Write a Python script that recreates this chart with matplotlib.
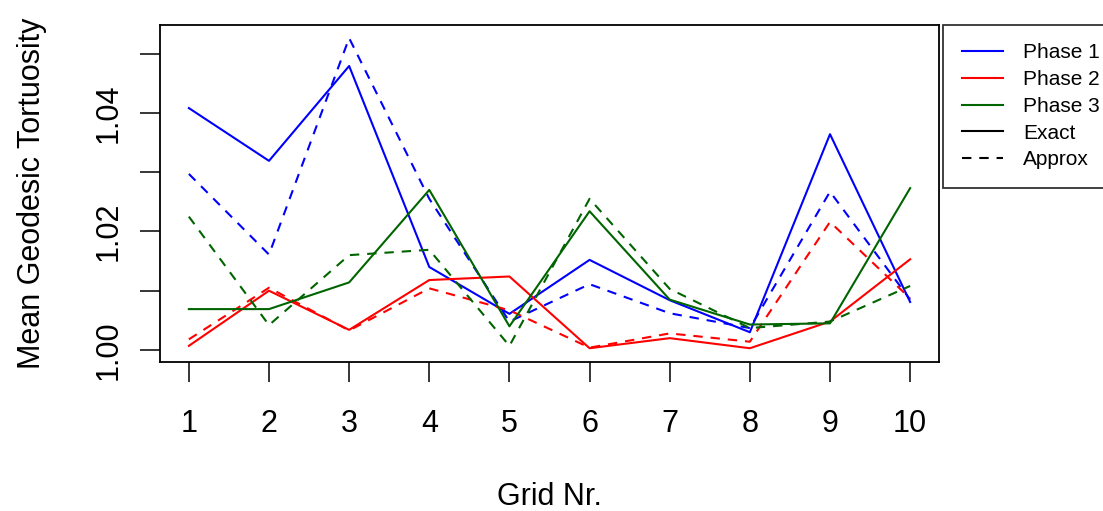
import numpy as np
import matplotlib
matplotlib.use("Agg")
import matplotlib.pyplot as plt
from matplotlib.lines import Line2D

plt.rcParams["font.family"] = ["Liberation Sans", "DejaVu Sans"]

grid = np.arange(1, 11)

phase1_exact  = [1.0408, 1.0319, 1.0479, 1.0140, 1.0061, 1.0152, 1.0084, 1.0030, 1.0364, 1.0081]
phase1_approx = [1.0297, 1.0161, 1.0526, 1.0255, 1.0048, 1.0111, 1.0062, 1.0037, 1.0267, 1.0085]
phase2_exact  = [1.0007, 1.0100, 1.0034, 1.0118, 1.0124, 1.0003, 1.0020, 1.0003, 1.0048, 1.0153]
phase2_approx = [1.0018, 1.0105, 1.0033, 1.0104, 1.0067, 1.0004, 1.0028, 1.0014, 1.0216, 1.0087]
phase3_exact  = [1.0069, 1.0069, 1.0114, 1.0270, 1.0040, 1.0234, 1.0085, 1.0043, 1.0045, 1.0273]
phase3_approx = [1.0225, 1.0042, 1.0160, 1.0169, 1.0007, 1.0255, 1.0103, 1.0037, 1.0048, 1.0108]

COLOURS = ["#0000FF", "#FF0000", "#006400"]
LABELS  = ["Phase 1", "Phase 2", "Phase 3"]
DASH    = (0, (4.5, 3.8))
LW      = 1.5

fig = plt.figure(figsize=(11.03, 5.11), dpi=100)
ax = fig.add_axes([160 / 1103, 1 - 361.7 / 511, 779 / 1103, 337 / 511])

series = [(phase1_exact, phase1_approx),
          (phase2_exact, phase2_approx),
          (phase3_exact, phase3_approx)]
for (exact, approx), col in zip(series, COLOURS):
    ax.plot(grid, exact, color=col, lw=LW)
    ax.plot(grid, approx, color=col, lw=LW, linestyle=DASH)

ax.set_xlim(0.64, 10.36)
ax.set_ylim(0.99803, 1.05486)

ax.set_xticks(grid)
ax.set_xticklabels([str(g) for g in grid])
yt = [1.00, 1.01, 1.02, 1.03, 1.04, 1.05]
ax.set_yticks(yt)
ax.set_yticklabels(["1.00", "", "1.02", "", "1.04", ""], rotation=90, va="center")

ax.tick_params(axis="both", direction="out", length=14.4, width=1.1,
               labelsize=22, colors="black")
ax.tick_params(axis="x", pad=19.5)
ax.tick_params(axis="y", pad=11.5)

for s in ax.spines.values():
    s.set_linewidth(1.3)
    s.set_color("black")

ax.set_xlabel("Grid Nr.", fontsize=22)
ax.xaxis.set_label_coords(0.5, -0.356)
ax.set_ylabel("Mean Geodesic Tortuosity", fontsize=22)
ax.yaxis.set_label_coords(-0.145, 0.5)

handles = [Line2D([], [], color=c, lw=LW) for c in COLOURS]
handles += [Line2D([], [], color="black", lw=LW),
            Line2D([], [], color="black", lw=LW, linestyle=DASH)]
labels = LABELS + ["Exact", "Approx"]
leg = ax.legend(handles, labels, loc="upper left",
                bbox_to_anchor=(943 / 1103, 1 - 24.7 / 511),
                bbox_transform=fig.transFigure,
                fontsize=15, frameon=True, fancybox=False,
                borderpad=0.9, labelspacing=0.37,
                handlelength=2.0, handletextpad=0.95, borderaxespad=0)
leg.get_frame().set_edgecolor("black")
leg.get_frame().set_linewidth(1.3)
leg.set_clip_on(False)

fig.savefig("out.png", dpi=100)
